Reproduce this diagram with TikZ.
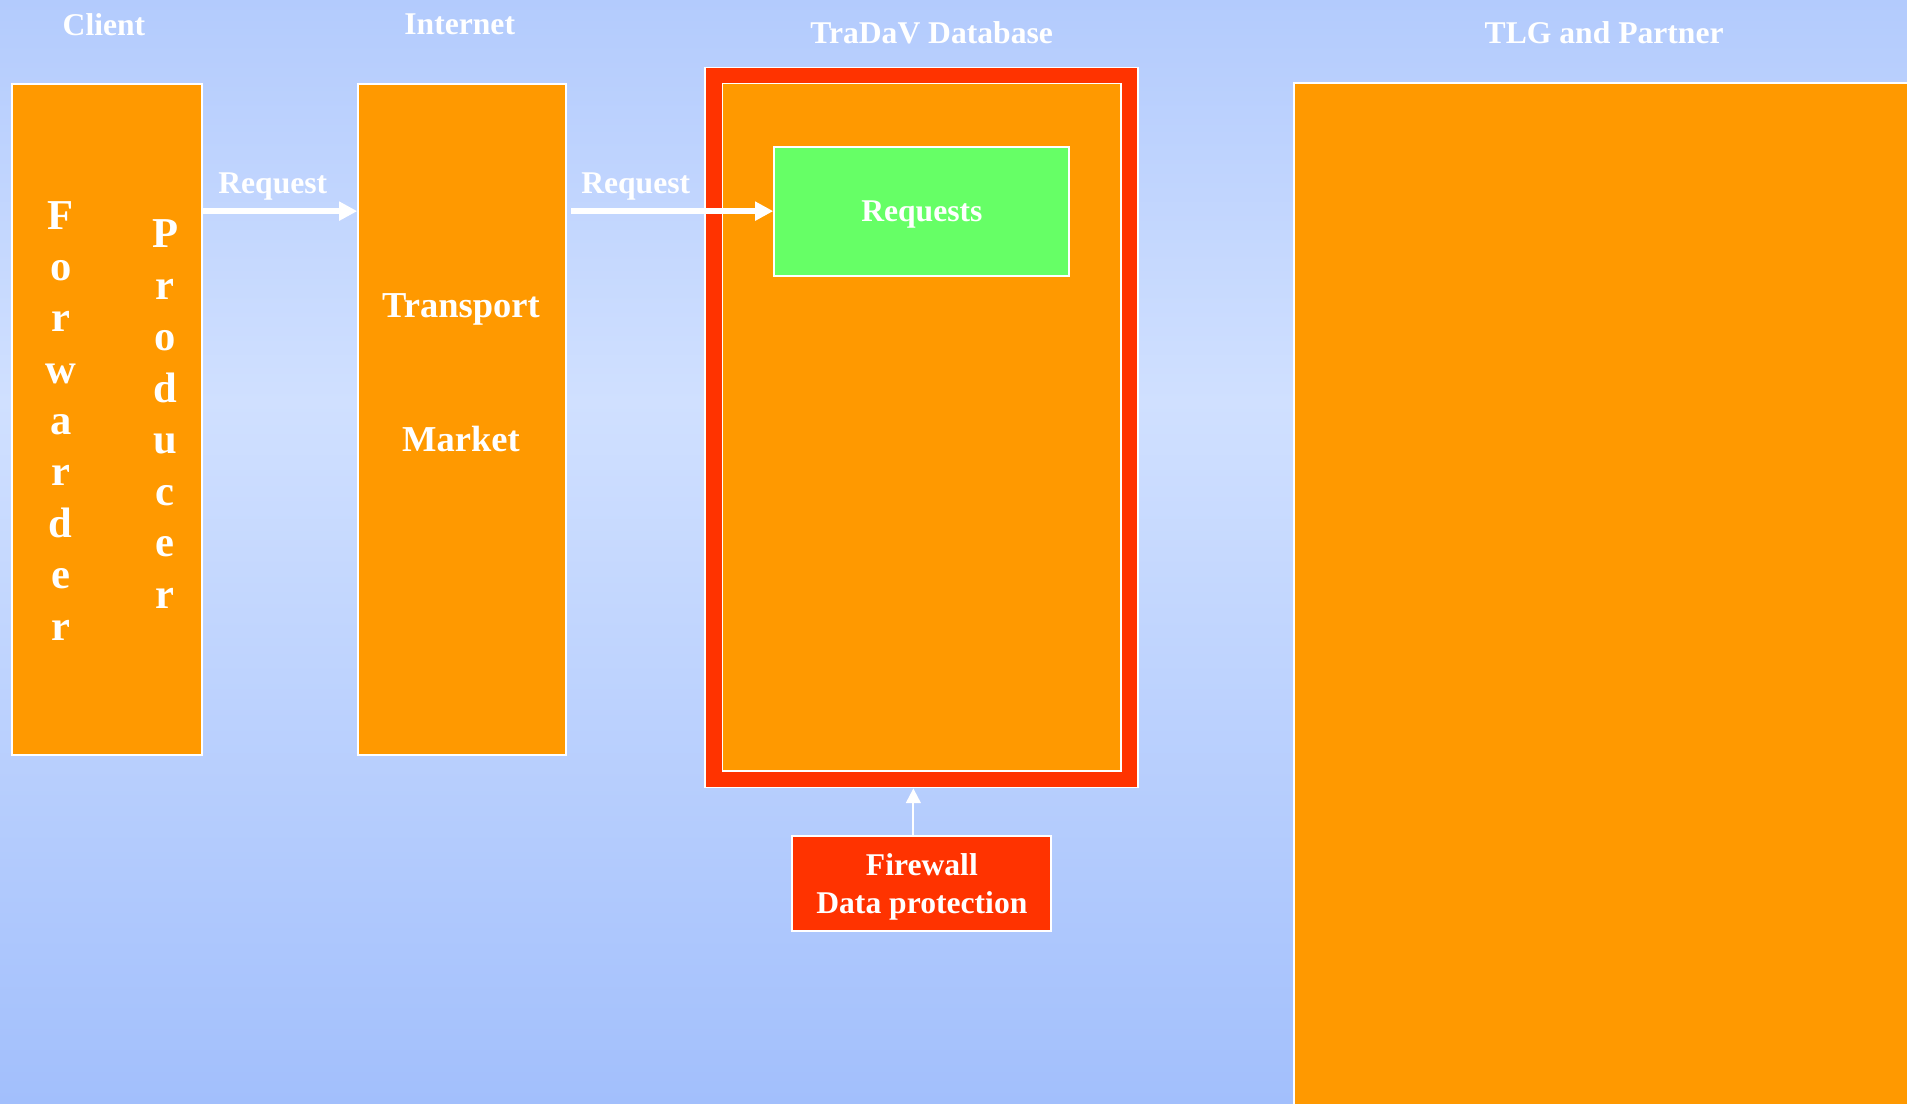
\documentclass[tikz,border=0pt]{standalone}
\usepackage{fontspec}
\setmainfont{Liberation Serif}
\usetikzlibrary{arrows.meta}
\definecolor{bgtop}{HTML}{B3CBFD}
\definecolor{bgmid}{HTML}{D0E0FF}
\definecolor{bgbot}{HTML}{A2BFFC}
\definecolor{orng}{HTML}{FF9900}
\definecolor{redd}{HTML}{FF3300}
\definecolor{grn}{HTML}{66FF66}
\begin{document}
\begin{tikzpicture}[x=1pt,y=-1pt,
  panel/.style={draw=white, line width=1.5pt, inner sep=0pt, fill=orng},
  redpanel/.style={draw=white, line width=1.5pt, inner sep=0pt, fill=redd},
  greenpanel/.style={draw=white, line width=1.5pt, inner sep=0pt, fill=grn},
  headtxt/.style={text=white, anchor=base, inner sep=0pt, font=\bfseries\fontsize{26}{31}\selectfont},
  bigtxt/.style={text=white, anchor=base, inner sep=0pt, font=\bfseries\fontsize{30}{36}\selectfont},
  midtxt/.style={text=white, anchor=base, inner sep=0pt, font=\bfseries\fontsize{26}{31}\selectfont},
  lettxt/.style={text=white, anchor=base, inner sep=0pt, font=\bfseries\fontsize{35}{42}\selectfont},
  bigarrow/.style={draw=white, line width=4.4pt, -{Triangle[length=15pt,width=15pt]}},
  thinarrow/.style={draw=white, line width=1.8pt, -{Triangle[length=12pt,width=12pt]}}
]
% background
\fill[top color=bgtop, bottom color=bgmid] (0,0) rectangle (1568,331);
\fill[top color=bgmid, bottom color=bgbot] (0,330) rectangle (1568,907);
\useasboundingbox (0,0) rectangle (1568,907);

% panels
\node[panel, minimum width=156pt, minimum height=552pt] (client) at (88,345) {};
\node[panel, minimum width=171pt, minimum height=552pt] (internet) at (380,345) {};
\node[redpanel, minimum width=356pt, minimum height=592pt] (outer) at (758,351.5) {};
\node[panel, minimum width=328pt, minimum height=565pt] (inner) at (758,351.1) {};
\node[greenpanel, minimum width=242.5pt, minimum height=106pt] (reqs) at (757.8,173.6) {};
\node[redpanel, minimum width=213pt, minimum height=78pt] (fw) at (757.5,726.5) {};
\node[panel, minimum width=536pt, minimum height=872pt] (tlg) at (1332,504.5) {};

% headings
\node[headtxt] (hclient) at (85.5,28.8) {Client};
\node[headtxt] (hinternet) at (378,28) {Internet};
\node[headtxt] (htradav) at (766,35.6) {TraDaV Database};
\node[headtxt] (htlg) at (1319,35.6) {TLG and Partner};

% labels
\node[headtxt] (lreq1) at (224.3,159) {Request};
\node[headtxt] (lreq2) at (522.7,158.9) {Request};
\node[headtxt] (lreqs) at (758,182.3) {Requests};
\node[bigtxt] (ltrans) at (379,260.8) {Transport};
\node[bigtxt] (lmarket) at (379,371) {Market};
\node[midtxt] (lfw) at (758,719.5) {Firewall};
\node[midtxt] (ldp) at (758,751) {Data protection};

% vertical words
\foreach \l [count=\i from 0] in {F,o,r,w,a,r,d,e,r}
  \node[lettxt] (fwd\i) at (50,188.3+42.25*\i) {\l};
\foreach \l [count=\i from 0] in {P,r,o,d,u,c,e,r}
  \node[lettxt] (prd\i) at (136,203.9+42.3*\i) {\l};

% connectors
\draw[bigarrow] (client.east |- reqs.west) -- (internet.west |- reqs.west);
\draw[bigarrow] ([xshift=3.5pt]internet.east |- reqs.west) -- (reqs.west);
\draw[thinarrow] ([xshift=-6.5pt]fw.north) -- ([xshift=-6.5pt]fw.north |- outer.south);
\end{tikzpicture}
\end{document}
